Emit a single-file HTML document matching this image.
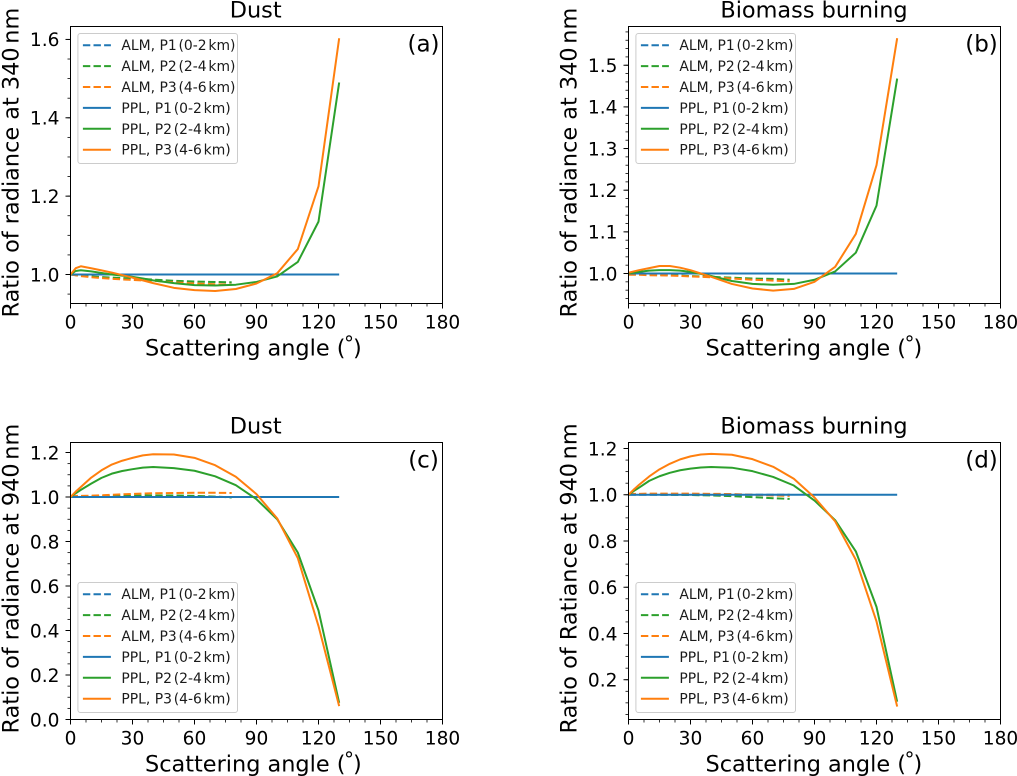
<!DOCTYPE html>
<html lang="en">
<head>
<meta charset="utf-8">
<title>Ratio of radiance panels</title>
<style>
html,body{margin:0;padding:0;background:#fff;}
svg{display:block;font-family:"DejaVu Sans","Liberation Sans",sans-serif;}
</style>
</head>
<body>
<svg id="figure" xmlns="http://www.w3.org/2000/svg" width="1017" height="776" viewBox="0 0 1017 776"></svg>
<script>
// Shared angles (degrees)
const pplAngles = [0,2.5,5,10,15,20,25,30,35,40,50,60,70,80,90,100,110,120,130];
const almAngles = [0,5,10,20,30,40,50,60,70,78];
const xTickLabels = [0,30,60,90,120,150,180];
const legendLabels = ['ALM, P1 (0-2 km)','ALM, P2 (2-4 km)','ALM, P3 (4-6 km)','PPL, P1 (0-2 km)','PPL, P2 (2-4 km)','PPL, P3 (4-6 km)'];

// Baseline series
const pplP1All = [1,1,1,1,1,1,1,1,1,1,1,1,1,1,1,1,1,1,1];
const almP1All = [1,1,1,1,1,1,1,1,1,1];

// Panel (a)
const aPplP2 = [1.0,1.009,1.011,1.008,1.004,1.0,0.997,0.994,0.99,0.985,0.978,0.973,0.972,0.974,0.981,0.995,1.032,1.135,1.49];
const aPplP3 = [1.0,1.016,1.021,1.016,1.0105,1.005,0.9985,0.992,0.985,0.978,0.966,0.96,0.958,0.963,0.977,1.003,1.065,1.225,1.603];
const aAlmP2 = [1,0.997,0.995,0.992,0.99,0.987,0.984,0.982,0.981,0.98];
const aAlmP3 = [1,0.996,0.993,0.989,0.986,0.984,0.98,0.977,0.975,0.974];
const aYTicks = ['1.0','1.2','1.4','1.6'];

// Panel (b)
const bPplP2 = [1.0,1.002,1.004,1.007,1.008,1.008,1.007,1.004,0.999,0.994,0.982,0.975,0.973,0.975,0.985,1.005,1.05,1.163,1.468];
const bPplP3 = [1.002,1.005,1.008,1.013,1.018,1.018,1.014,1.008,1.0,0.992,0.975,0.964,0.959,0.963,0.98,1.016,1.095,1.26,1.565];
const bAlmP2 = [0.998,0.998,0.997,0.996,0.994,0.992,0.99,0.988,0.987,0.985];
const bAlmP3 = [0.997,0.997,0.996,0.995,0.993,0.991,0.988,0.985,0.983,0.981];
const bYTicks = ['1.0','1.1','1.2','1.3','1.4','1.5'];

// Panel (c)
const cPplP2 = [1.0,1.017,1.032,1.06,1.086,1.105,1.117,1.125,1.132,1.135,1.13,1.118,1.093,1.053,0.99,0.9,0.75,0.49,0.075];
const cPplP3 = [1.0,1.024,1.045,1.087,1.12,1.146,1.163,1.176,1.187,1.192,1.191,1.176,1.143,1.091,1.013,0.904,0.725,0.42,0.06];
const cAlmP2 = [1.003,1.003,1.004,1.005,1.006,1.007,1.007,1.005,1.002,0.998];
const cAlmP3 = [1.005,1.005,1.006,1.01,1.014,1.017,1.018,1.019,1.019,1.018];
const cYTicks = ['0.0','0.2','0.4','0.6','0.8','1.0','1.2'];

// Panel (d)
const dPplP2 = [1.0,1.016,1.03,1.06,1.08,1.095,1.106,1.113,1.118,1.12,1.117,1.102,1.077,1.04,0.975,0.89,0.755,0.515,0.105];
const dPplP3 = [1.0,1.022,1.042,1.079,1.11,1.134,1.153,1.166,1.174,1.177,1.173,1.154,1.121,1.069,0.988,0.885,0.719,0.452,0.084];
const dAlmP2 = [1.002,1.002,1.001,1.0,0.999,0.997,0.994,0.99,0.985,0.982];
const dAlmP3 = [1.003,1.004,1.005,1.005,1.005,1.004,1.003,1.0,0.997,0.995];
const dYTicks = ['0.2','0.4','0.6','0.8','1.0','1.2'];

const BLUE = '#1f77b4', GREEN = '#2ca02c', ORANGE = '#ff7f0e';
const NS = 'http://www.w3.org/2000/svg';
const TEXT = '#000000';
const root = document.getElementById('figure');

function mk(tag, parent, attrs) {
  const n = document.createElementNS(NS, tag);
  for (const k in attrs) n.setAttribute(k, attrs[k]);
  parent.appendChild(n);
  return n;
}

function drawPanel(p) {
  const g = mk('g', root, {});
  
  

  const xScale = v => p.left + (v / 180) * (p.right - p.left);
  const yScale = v => p.bottom - ((v - p.yMin) / (p.yMax - p.yMin)) * (p.bottom - p.top);

  // series
  const series = [
    {name:'alm-p1', xs:almAngles, ys:almP1All, color:BLUE, dash:true},
    {name:'alm-p2', xs:almAngles, ys:p.almP2, color:GREEN, dash:true},
    {name:'alm-p3', xs:almAngles, ys:p.almP3, color:ORANGE, dash:true},
    {name:'ppl-p1', xs:pplAngles, ys:pplP1All, color:BLUE, dash:false},
    {name:'ppl-p2', xs:pplAngles, ys:p.pplP2, color:GREEN, dash:false},
    {name:'ppl-p3', xs:pplAngles, ys:p.pplP3, color:ORANGE, dash:false}
  ];
  series.forEach(s => {
    const pts = s.ys.map((v, i) => xScale(s.xs[i]).toFixed(2) + ',' + yScale(v).toFixed(2)).join(' ');
    const line = mk('polyline', g, {points: pts, fill: 'none', stroke: s.color, 'stroke-width': 2, 'stroke-linejoin': 'round'});
    if (s.dash) line.setAttribute('stroke-dasharray', '7.4 3.2');
    
    
  });

  // frame
  const frame = mk('rect', g, {x: p.left, y: p.top, width: p.right - p.left, height: p.bottom - p.top, fill: 'none', stroke: '#000', 'stroke-width': 1});
  
  

  // x ticks
  xTickLabels.forEach(v => {
    const x = xScale(v);
    const t = mk('line', g, {x1: x, x2: x, y1: p.bottom, y2: p.bottom + 5, stroke: '#000', 'stroke-width': 1});
    
    
    const l = mk('text', g, {x: x, y: p.bottom + 25, 'text-anchor': 'middle', 'font-size': 18.6, fill: TEXT});
    l.textContent = String(v);
    
    
  });
  for (let v = 7.5; v < 180; v += 7.5) {
    if (v % 30 === 0) continue;
    const x = xScale(v);
    const t = mk('line', g, {x1: x, x2: x, y1: p.bottom, y2: p.bottom + 3, stroke: '#000', 'stroke-width': 0.8});
    
    
  }

  // y ticks
  p.yTicks.forEach(lab => {
    const y = yScale(parseFloat(lab));
    const t = mk('line', g, {x1: p.left - 5, x2: p.left, y1: y, y2: y, stroke: '#000', 'stroke-width': 1});
    
    
    const l = mk('text', g, {x: p.left - 11, y: y + 6.8, 'text-anchor': 'end', 'font-size': 18.6, fill: TEXT});
    l.textContent = lab;
    
    
  });
  const startK = Math.ceil(p.yMin / p.yMinor - 1e-6);
  const endK = Math.floor(p.yMax / p.yMinor + 1e-6);
  for (let k = startK; k <= endK; k++) {
    const v = k * p.yMinor;
    const y = yScale(v);
    const t = mk('line', g, {x1: p.left - 3, x2: p.left, y1: y, y2: y, stroke: '#000', 'stroke-width': 0.8});
    
    
  }

  // title
  const title = mk('text', g, {x: p.titleX, y: p.top - 9, 'text-anchor': 'middle', 'font-size': 22.4, fill: TEXT});
  title.textContent = p.title;
  
  

  // x label
  const xl = mk('text', g, {x: p.xLabelX, y: p.bottom + 52, 'font-size': 22.4, fill: TEXT});
  
  
  const xl1 = mk('tspan', xl, {});
  xl1.textContent = 'Scattering angle (';
  const xl2 = mk('tspan', xl, {dx: -1.5, dy: -5, 'font-size': 20});
  xl2.textContent = '\u00B0';
  const xl3 = mk('tspan', xl, {dx: -1, dy: 5});
  xl3.textContent = ')';

  // y label
  const yx = p.left - 52;
  const yy = p.bottom + 14;
  const yl = mk('text', g, {x: yx, y: yy, transform: 'rotate(-90 ' + yx + ' ' + yy + ')', 'font-size': 22.4, fill: TEXT});
  
  
  const yl1 = mk('tspan', yl, {});
  yl1.textContent = p.yLabel + ' ';
  const yl2 = mk('tspan', yl, {dx: -3.5});
  yl2.textContent = 'nm';

  // panel letter
  const letter = mk('text', g, {x: p.right - 19, y: p.top + 25, 'text-anchor': 'middle', 'font-size': 23, fill: TEXT});
  letter.textContent = p.letter;
  
  

  // legend
  const lg = mk('g', g, {});
  
  
  const lx = p.left + 7.4, ly = p.legendTop;
  const box = mk('rect', lg, {x: lx, y: ly, width: 159.6, height: 130, rx: 2.5, ry: 2.5, fill: '#fff', 'fill-opacity': 0.8, stroke: '#cccccc', 'stroke-width': 1});
  
  
  legendLabels.forEach((lab, i) => {
    const y = ly + 11.7 + i * 20.9;
    const color = [BLUE, GREEN, ORANGE][i % 3];
    const h = mk('line', lg, {x1: lx + 5, x2: lx + 33, y1: y, y2: y, stroke: color, 'stroke-width': 2});
    if (i < 3) h.setAttribute('stroke-dasharray', '7.4 3.2');
    
    
    const t = mk('text', lg, {x: lx + 43.5, y: y + 5, 'font-size': 13.9, fill: '#1a1a1a'});
    
    
    const cut = lab.indexOf(' (');
    const a = mk('tspan', t, {});
    a.textContent = lab.slice(0, cut);
    const b = mk('tspan', t, {'word-spacing': '-2.6px'});
    b.textContent = lab.slice(cut);
  });
}

const panels = [
  {tag:'a', title:'Dust', letter:'(a)', yLabel:'Ratio of radiance at 340', left:70.5, right:442.5, top:26.5, bottom:303.5,
   yMin:0.926, yMax:1.633, yMinor:0.05, yTicks:aYTicks, pplP2:aPplP2, pplP3:aPplP3, almP2:aAlmP2, almP3:aAlmP3, titleX:255.7, xLabelX:145, legendTop:33.5},
  {tag:'b', title:'Biomass burning', letter:'(b)', yLabel:'Ratio of radiance at 340', left:628.5, right:1000.5, top:26.5, bottom:303.5,
   yMin:0.928, yMax:1.593, yMinor:0.02, yTicks:bYTicks, pplP2:bPplP2, pplP3:bPplP3, almP2:bAlmP2, almP3:bAlmP3, titleX:814, xLabelX:705.5, legendTop:33.5},
  {tag:'c', title:'Dust', letter:'(c)', yLabel:'Ratio of radiance at 940', left:70.5, right:442.5, top:442.5, bottom:719.5,
   yMin:0, yMax:1.245, yMinor:0.05, yTicks:cYTicks, pplP2:cPplP2, pplP3:cPplP3, almP2:cAlmP2, almP3:cAlmP3, titleX:255.7, xLabelX:145, legendTop:582.5},
  {tag:'d', title:'Biomass burning', letter:'(d)', yLabel:'Ratio of Ratiance at 940', left:628.5, right:1000.5, top:442.5, bottom:719.5,
   yMin:0.028, yMax:1.226, yMinor:0.05, yTicks:dYTicks, pplP2:dPplP2, pplP3:dPplP3, almP2:dAlmP2, almP3:dAlmP3, titleX:814, xLabelX:705.5, legendTop:582.5}
];
panels.forEach(drawPanel);
</script>
</body>
</html>
